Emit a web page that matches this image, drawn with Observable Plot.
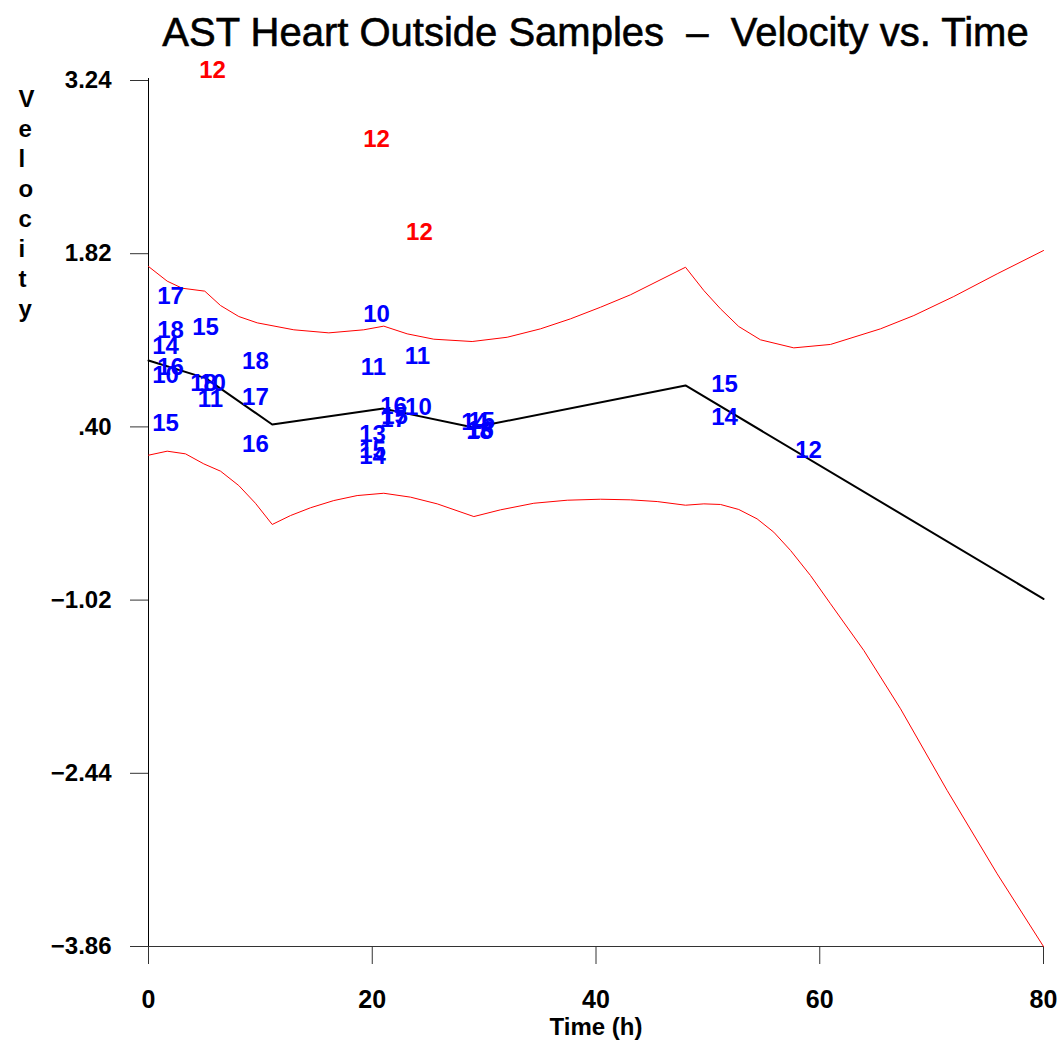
<!DOCTYPE html>
<html><head><meta charset="utf-8">
<script src="https://cdn.jsdelivr.net/npm/d3@7"></script>
<script src="https://cdn.jsdelivr.net/npm/@observablehq/plot@0.6"></script>
<style>
body{margin:0;background:#fff;}
#wrap{position:relative;width:1060px;height:1042px;overflow:hidden;font-family:"Liberation Sans",Arial,sans-serif;background:#fff;}
#title{position:absolute;left:148px;width:895px;top:0;height:62px;line-height:64px;text-align:center;font-size:40px;color:#000;white-space:pre;-webkit-text-stroke:0.6px #000;}
#chart{position:absolute;left:0;top:62px;}
</style></head><body>
<div id="wrap"><div id="title">AST Heart Outside Samples  –  Velocity vs. Time</div><div id="chart"></div></div>
<script>
// ---- data ----
const xTicks = [0, 20, 40, 60, 80];
const yTicks = [3.24, 1.82, 0.40, -1.02, -2.44, -3.86];
const yTickLabels = ["3.24", "1.82", ".40", "\u22121.02", "\u22122.44", "\u22123.86"];

const fitT = [0, 5.1, 11.06, 21.0, 29.05, 48.0, 80];
const fitV = [0.944, 0.80, 0.42, 0.55, 0.395, 0.74, -1.01];

const upperT = [0, 1.67, 3.01, 5.03, 6.44, 8.07, 9.72, 12.99, 16.12, 19.24, 21.03, 23.12, 25.5, 28.93, 32.06, 35.04, 37.72, 40.4, 43.08, 48.0, 49.64, 51.13, 52.76, 54.7, 57.68, 60.96, 65.43, 68.41, 71.98, 75.86, 80];
const upperV = [1.715, 1.595, 1.537, 1.513, 1.395, 1.305, 1.253, 1.196, 1.171, 1.196, 1.226, 1.163, 1.119, 1.100, 1.135, 1.204, 1.286, 1.381, 1.483, 1.709, 1.518, 1.368, 1.223, 1.114, 1.048, 1.076, 1.204, 1.313, 1.469, 1.655, 1.846];

const lowerT = [0, 1.67, 3.31, 4.94, 6.44, 8.07, 9.56, 11.06, 12.69, 14.48, 16.56, 18.65, 21.03, 23.42, 25.81, 29.08, 31.46, 34.44, 37.43, 40.4, 43.08, 45.47, 48.0, 49.64, 51.13, 52.76, 54.4, 55.89, 57.39, 59.17, 60.96, 63.94, 67.22, 71.39, 75.86, 80];
const lowerV = [0.168, 0.201, 0.179, 0.097, 0.037, -0.081, -0.226, -0.400, -0.327, -0.263, -0.204, -0.163, -0.144, -0.176, -0.231, -0.335, -0.280, -0.226, -0.201, -0.193, -0.198, -0.212, -0.242, -0.231, -0.236, -0.277, -0.354, -0.463, -0.613, -0.818, -1.050, -1.433, -1.911, -2.581, -3.264, -3.86];

const sampleId = ["17","18","14","16","10","15","15","18","10","11","18","17","16","10","11","11","16","17","15","10","13","15","14","14","15","16","18","15","14","12"];
const sampleT  = [1.97, 1.97, 1.52, 1.97, 1.52, 5.1, 1.52, 4.92, 5.72, 5.54, 9.56, 9.56, 9.56, 20.38, 20.11, 24.04, 21.9, 21.9, 21.99, 24.13, 20.02, 20.02, 20.02, 29.14, 29.77, 29.68, 29.59, 51.49, 51.49, 59.0];
const sampleV  = [1.47, 1.19, 1.06, 0.89, 0.82, 1.215, 0.43, 0.76, 0.756, 0.63, 0.94, 0.64, 0.26, 1.32, 0.89, 0.98, 0.57, 0.46, 0.485, 0.56, 0.34, 0.21, 0.157, 0.436, 0.444, 0.37, 0.362, 0.748, 0.477, 0.207];

const outlierId = ["12", "12", "12"];
const outlierT  = [5.72, 20.38, 24.22];
const outlierV  = [3.32, 2.756, 1.994];

// ---- tables ----
const fit = fitT.map((t, i) => ({t, v: fitV[i]}));
const upper = upperT.map((t, i) => ({t, v: upperV[i]}));
const lower = lowerT.map((t, i) => ({t, v: lowerV[i]}));
const samples = sampleT.map((t, i) => ({t, v: sampleV[i], id: sampleId[i]}));
const outliers = outlierT.map((t, i) => ({t, v: outlierV[i], id: outlierId[i]}));

const font = '"Liberation Sans", Arial, sans-serif';

const chart = Plot.plot({
  width: 1060,
  height: 980,
  marginTop: 18,
  marginBottom: 96,
  marginLeft: 148,
  marginRight: 17,
  style: {fontFamily: font, fontSize: "22px", color: "black", background: "white", overflow: "visible"},
  x: {domain: [0, 80]},
  y: {domain: [-3.86, 3.24]},
  marks: [
    Plot.ruleX([0], {insetTop: -2, insetBottom: -17, stroke: "black", strokeWidth: 1}),
    Plot.ruleY([-3.86], {stroke: "#333", strokeWidth: 1}),
    Plot.axisY({ticks: yTicks, tickSize: 18, tickPadding: 19, tickFormat: d => yTickLabels[yTicks.indexOf(d)], label: null, stroke: "#333", fontSize: 24, fontWeight: "bold"}),
    Plot.axisX({ticks: xTicks, tickSize: 18, tickPadding: 26, label: null, stroke: "#333", fontSize: 25, fontWeight: "bold"}),
    Plot.line(upper, {x: "t", y: "v", stroke: "#ff0000", strokeWidth: 1}),
    Plot.line(lower, {x: "t", y: "v", stroke: "#ff0000", strokeWidth: 1}),
    Plot.line(fit, {x: "t", y: "v", stroke: "black", strokeWidth: 2}),
    Plot.text(samples, {x: "t", y: "v", text: "id", fill: "#0000ff", fontSize: 24, fontWeight: "bold"}),
    Plot.text(outliers, {x: "t", y: "v", text: "id", fill: "#ff0000", fontSize: 24, fontWeight: "bold"}),
    Plot.text(["Velocity"], {text: d => d.split("").join("\n"), frameAnchor: "top-left", dx: -130, dy: 5, lineAnchor: "top", lineHeight: 1.25, fontSize: 24, fontWeight: "bold", fill: "black"}),
    Plot.text(["Time (h)"], {frameAnchor: "bottom", dy: 88, fontSize: 24, fontWeight: "bold", fill: "black"})
  ]
});
document.getElementById("chart").appendChild(chart);
</script></body></html>
